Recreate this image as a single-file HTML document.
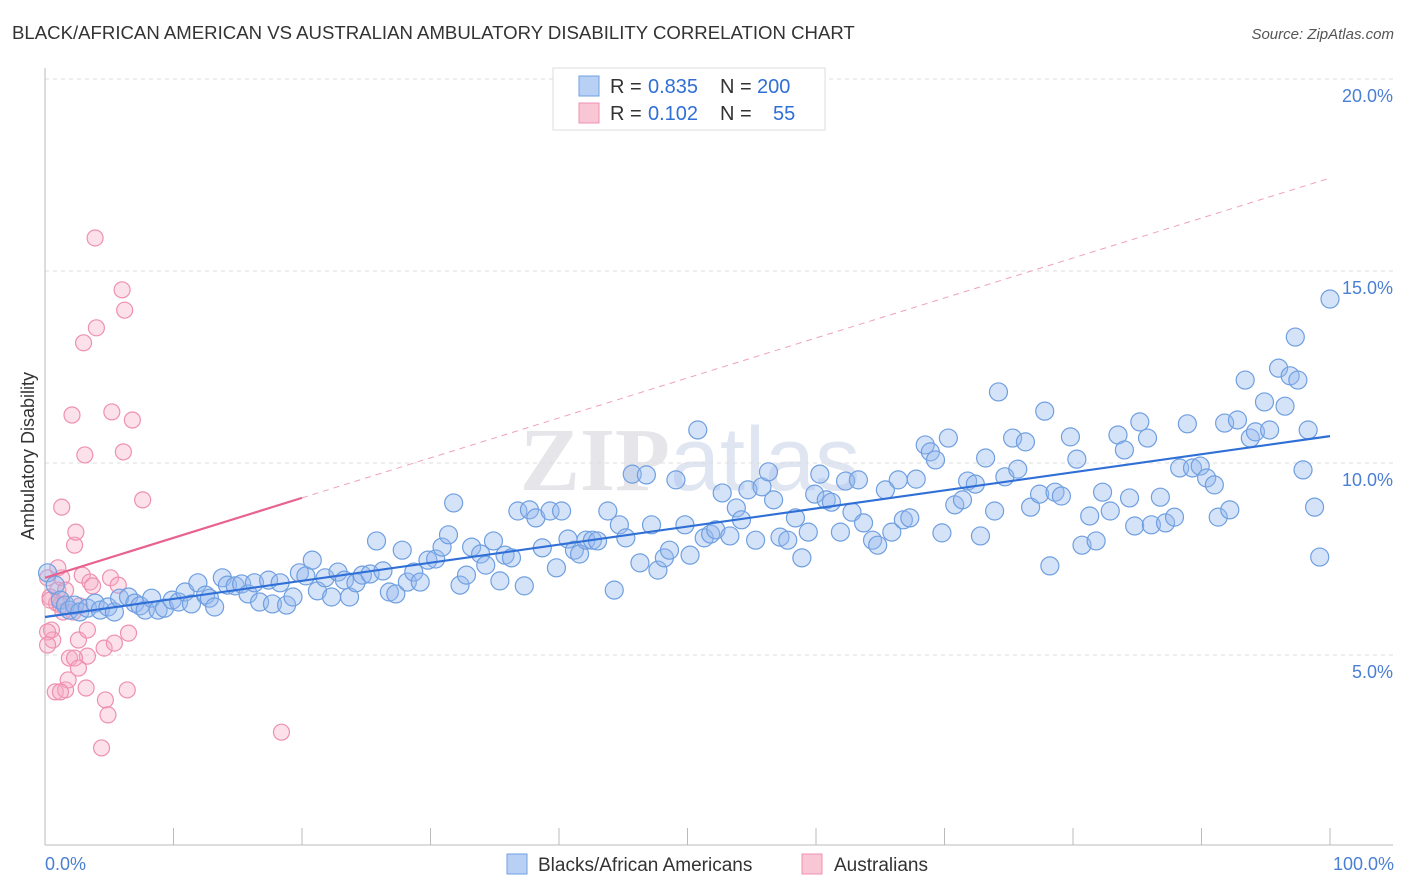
<!DOCTYPE html>
<html><head><meta charset="utf-8">
<style>
body{margin:0;background:#fff;font-family:"Liberation Sans",sans-serif;}
svg{display:block}
</style></head>
<body>
<svg id="chart" width="1406" height="892" viewBox="0 0 1406 892" xmlns="http://www.w3.org/2000/svg">
<text x="12" y="39" font-size="18.6" fill="#333">BLACK/AFRICAN AMERICAN VS AUSTRALIAN AMBULATORY DISABILITY CORRELATION CHART</text>
<text x="1394" y="39" font-size="15" fill="#555" text-anchor="end" font-style="italic">Source: ZipAtlas.com</text>
<text x="690" y="490" font-size="90" fill="#e6e6ea" text-anchor="middle" font-family="Liberation Serif" font-weight="bold">ZIP<tspan font-family="Liberation Sans" font-weight="normal" fill="#dfe6f2">atlas</tspan></text>
<g id="grid"></g>
<g id="axes"></g>
<g id="trends"></g>
<g id="pts"></g>
<text transform="translate(34,456) rotate(-90)" font-size="18" fill="#333" text-anchor="middle">Ambulatory Disability</text>
<text x="45" y="870" font-size="18" fill="#4a7fd4">0.0%</text>
<text x="1394" y="870" font-size="18" fill="#4a7fd4" text-anchor="end">100.0%</text>
<g>
<rect x="553" y="68" width="272" height="62" fill="#fff" stroke="#ddd"/>
<rect x="579" y="76" width="20" height="20" fill="#b8d0f4" stroke="#6f9fe0"/>
<rect x="579" y="103" width="20" height="20" fill="#f9c6d6" stroke="#ee90b0"/>
<text x="610" y="93" font-size="20" fill="#333">R =</text>
<text x="648" y="93" font-size="20" fill="#2f6fd6">0.835</text>
<text x="720" y="93" font-size="20" fill="#333">N =</text>
<text x="757" y="93" font-size="20" fill="#2f6fd6">200</text>
<text x="610" y="120" font-size="20" fill="#333">R =</text>
<text x="648" y="120" font-size="20" fill="#2f6fd6">0.102</text>
<text x="720" y="120" font-size="20" fill="#333">N =</text>
<text x="773" y="120" font-size="20" fill="#2f6fd6">55</text>
</g>
<g>
<rect x="507" y="854" width="20" height="20" fill="#b8d0f4" stroke="#6f9fe0"/>
<text x="538" y="871" font-size="19" fill="#333">Blacks/African Americans</text>
<rect x="802" y="854" width="20" height="20" fill="#f9c6d6" stroke="#ee90b0"/>
<text x="834" y="871" font-size="19" fill="#333">Australians</text>
</g>
</svg>
<script>
const blueX=[0.2,0.8,1.2,1.6,1.9,2.3,2.7,3.3,3.9,4.3,4.9,5.4,5.8,6.5,7.0,7.4,7.8,8.3,8.8,9.3,9.9,10.4,10.9,11.4,11.9,12.5,12.8,13.2,13.8,14.2,14.8,15.3,15.8,16.3,16.7,17.4,17.7,18.3,18.8,19.3,19.8,20.3,20.8,21.2,21.8,22.3,22.8,23.3,23.7,24.2,24.7,25.3,25.8,26.3,26.8,27.3,27.8,28.2,28.7,29.2,29.8,30.4,30.9,31.4,31.8,32.3,32.8,33.2,33.9,34.3,34.9,35.4,35.8,36.3,36.8,37.3,37.7,38.2,38.7,39.3,39.8,40.2,40.7,41.2,41.6,42.1,42.6,43.0,43.8,44.3,44.7,45.2,45.7,46.3,46.8,47.2,47.7,48.2,48.6,49.1,49.8,50.2,50.8,51.3,51.8,52.2,52.7,53.3,53.8,54.2,54.7,55.3,55.8,56.3,56.7,57.2,57.8,58.4,58.9,59.4,59.9,60.3,60.8,61.2,61.9,62.3,62.8,63.3,63.7,64.4,64.8,65.4,65.9,66.4,66.8,67.3,67.8,68.5,68.9,69.3,69.8,70.3,70.8,71.4,71.8,72.4,72.8,73.2,73.9,74.2,74.7,75.3,75.7,76.3,76.7,77.4,77.8,78.2,78.6,79.1,79.8,80.3,80.7,81.3,81.8,82.3,82.9,83.5,84.0,84.4,84.8,85.2,85.8,86.1,86.8,87.2,87.9,88.3,88.9,89.3,89.9,90.4,91.0,91.3,91.8,92.2,92.8,93.4,93.8,94.2,94.9,95.3,96.0,96.5,96.9,97.5,97.9,98.3,98.8,99.2,100.0,97.3];
const blueY=[7.14,6.82,6.43,6.30,6.17,6.30,6.12,6.22,6.35,6.17,6.25,6.12,6.48,6.51,6.35,6.28,6.17,6.48,6.17,6.22,6.43,6.38,6.64,6.33,6.88,6.56,6.48,6.25,7.01,6.82,6.80,6.85,6.59,6.88,6.38,6.95,6.33,6.88,6.30,6.51,7.14,7.06,7.47,6.67,7.01,6.51,7.16,6.95,6.51,6.88,7.08,7.11,7.97,7.19,6.64,6.59,7.73,6.90,7.16,6.90,7.47,7.50,7.81,8.13,8.96,6.82,7.08,7.81,7.63,7.34,7.97,6.93,7.60,7.53,8.75,6.80,8.78,8.57,7.79,8.75,7.27,8.75,8.02,7.73,7.63,7.99,7.99,7.97,8.75,6.69,8.39,8.05,9.71,7.40,9.69,8.39,7.21,7.53,7.73,9.56,8.39,7.60,10.86,8.05,8.15,8.26,9.22,8.10,8.83,8.52,9.30,7.99,9.38,9.77,9.04,8.07,7.99,8.57,7.53,8.20,9.19,9.71,9.04,8.98,8.20,9.53,8.72,9.56,8.44,7.99,7.86,9.30,8.20,9.56,8.52,8.57,9.58,10.47,10.29,10.08,8.18,10.65,8.91,9.04,9.53,9.45,8.10,10.13,8.75,11.85,9.64,10.65,9.84,10.55,8.85,9.19,11.35,7.32,9.24,9.14,10.68,10.10,7.86,8.62,7.97,9.24,8.75,10.73,10.34,9.09,8.36,11.07,10.65,8.39,9.11,8.44,8.59,9.87,11.02,9.87,9.92,9.61,9.43,8.59,11.04,8.78,11.12,12.16,10.65,10.81,11.59,10.86,12.47,11.48,12.27,12.16,9.82,10.86,8.85,7.55,14.27,13.28];
const pinkX=[0.2,0.4,0.5,0.6,0.8,0.9,1.0,1.2,1.3,1.6,1.8,1.9,2.1,2.2,2.3,2.4,2.6,2.7,2.9,3.0,3.1,3.2,3.3,3.5,3.9,4.0,4.6,4.7,4.9,5.1,5.2,5.4,5.7,6.0,6.1,6.2,6.4,6.5,6.8,7.6,18.4,1.3,0.2,0.4,3.3,2.3,1.6,3.7,1.2,4.4,0.2,1.4,2.6,1.0];
const pinkY=[7.01,6.51,5.65,5.39,4.04,6.35,6.69,6.30,7.01,4.09,4.35,4.92,11.25,6.12,7.86,8.20,5.39,6.28,7.08,13.13,10.21,4.14,5.65,6.90,15.86,13.52,5.18,3.83,3.44,7.01,11.33,5.31,6.82,14.51,10.29,13.98,4.09,5.57,11.12,9.04,2.99,8.85,5.60,6.43,4.97,4.92,6.69,6.80,4.04,2.58,5.26,6.12,4.66,7.27];
const blueTrend=[5.99,10.70];
const pinkTrend=[7.01,17.42];
const yTicks=[5,10,15,20];
const yTickLabels=["5.0%","10.0%","15.0%","20.0%"];
const xTicks=[0,10,20,30,40,50,60,70,80,90,100];

const NS="http://www.w3.org/2000/svg";
const sx=v=>45+v*12.85;
const sy=v=>847-v*38.4;
function mk(tag,attrs,parent){const e=document.createElementNS(NS,tag);for(const k in attrs)e.setAttribute(k,attrs[k]);document.getElementById(parent).appendChild(e);return e;}

yTicks.forEach((t,i)=>{
  const g=mk('line',{x1:45,x2:1393,y1:sy(t),y2:sy(t),stroke:'#ddd','stroke-dasharray':'4,4'},'grid');
  
  
  const l=mk('text',{x:1393,y:sy(t)+23,'font-size':18,fill:'#4a7fd4','text-anchor':'end'},'grid');
  l.textContent=yTickLabels[i];
  
  
});
const xa=mk('line',{x1:45,x2:1393,y1:845,y2:845,stroke:'#bbb'},'axes');


const ya=mk('line',{x1:45,x2:45,y1:68,y2:845,stroke:'#bbb'},'axes');


xTicks.forEach(t=>{
  const k=mk('line',{x1:sx(t),x2:sx(t),y1:828,y2:845,stroke:'#bbb'},'axes');
  
  
});
const pd=mk('line',{x1:sx(20),y1:sy(pinkTrend[0]+(pinkTrend[1]-pinkTrend[0])*0.2),x2:sx(100),y2:sy(pinkTrend[1]),stroke:'#f0a0bc','stroke-dasharray':'6,5','stroke-width':1},'trends');



pinkX.forEach((x,i)=>{
  const c=mk('circle',{cx:sx(x),cy:sy(pinkY[i]),r:8,fill:'rgba(245,170,195,0.35)',stroke:'#ee90b0','stroke-width':1.2},'pts');
  
  
});
blueX.forEach((x,i)=>{
  const c=mk('circle',{cx:sx(x),cy:sy(blueY[i]),r:9,fill:'rgba(150,185,240,0.4)',stroke:'#6f9fe0','stroke-width':1.2},'pts');
  
  
});
const bt=mk('line',{x1:sx(0),y1:sy(blueTrend[0]),x2:sx(100),y2:sy(blueTrend[1]),stroke:'#2f6fd6','stroke-width':2.2},'pts');


const pt=mk('line',{x1:sx(0),y1:sy(pinkTrend[0]),x2:sx(20),y2:sy(pinkTrend[0]+(pinkTrend[1]-pinkTrend[0])*0.2),stroke:'#e8628e','stroke-width':2.2},'pts');


</script>
</body></html>
